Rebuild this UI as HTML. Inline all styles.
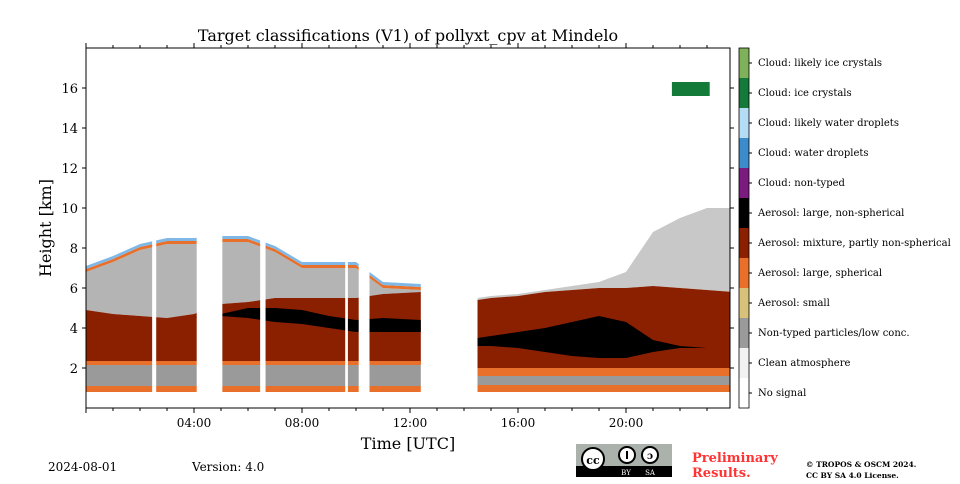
<!DOCTYPE html>
<html><head><meta charset="utf-8">
<style>
body{margin:0;background:#fff;width:960px;height:480px;overflow:hidden;font-family:"DejaVu Serif",serif;}
svg text{font-family:"DejaVu Serif",serif;}
</style></head>
<body>
<svg id="chart" width="960" height="480" viewBox="0 0 960 480">
<text x="408" y="41" font-size="16" text-anchor="middle">Target classifications (V1) of pollyxt_cpv at Mindelo</text>
<g id="plot" clip-path="url(#clip)"></g>
<defs><clipPath id="clip"><rect x="86" y="48" width="644" height="360"/></clipPath></defs>
<g id="axes"></g>
<text x="51" y="228" font-size="16" text-anchor="middle" transform="rotate(-90 51 228)">Height [km]</text>
<text x="408" y="449" font-size="16" text-anchor="middle">Time [UTC]</text>
<g id="cbar"></g>
<text x="48" y="471" font-size="12">2024-08-01</text>
<text x="192" y="471" font-size="12">Version: 4.0</text>
<g>
<rect x="576" y="444" width="96" height="33" fill="#aab2ab"/>
<rect x="576" y="466" width="96" height="11" fill="#000"/>
<circle cx="593" cy="459" r="11" fill="#fff" stroke="#000" stroke-width="2"/>
<text x="593" y="464" font-size="11" font-weight="bold" text-anchor="middle" font-family="Liberation Sans">cc</text>
<circle cx="627" cy="455" r="8" fill="#fff" stroke="#000" stroke-width="2"/>
<rect x="626" y="451" width="2" height="8" fill="#000"/>
<circle cx="650" cy="455" r="8" fill="#fff" stroke="#000" stroke-width="2"/>
<text x="650" y="459" font-size="10" font-weight="bold" text-anchor="middle" font-family="Liberation Sans">ɔ</text>
<text x="626" y="475" font-size="7" fill="#fff" text-anchor="middle" font-family="Liberation Sans">BY</text>
<text x="650" y="475" font-size="7" fill="#fff" text-anchor="middle" font-family="Liberation Sans">SA</text>
</g>
<text x="692" y="462" font-size="13" font-weight="bold" fill="#ff3333">Preliminary</text>
<text x="692" y="477" font-size="13" font-weight="bold" fill="#ff3333">Results.</text>
<text x="806" y="467" font-size="7.5" font-weight="bold">© TROPOS &amp; OSCM 2024.</text>
<text x="806" y="478" font-size="7.5" font-weight="bold">CC BY SA 4.0 License.</text>
</svg>
<script>
// ---- data ----
const t1 = [0,1,2,3,4,5,6,7,8,9,10,11,12.4];
const red1 = [4.9,4.7,4.6,4.5,4.7,5.2,5.3,5.5,5.5,5.5,5.5,5.7,5.8];
const grayTop1 = [6.8,7.3,7.9,8.2,8.2,8.3,8.3,7.8,7.0,7.0,7.0,6.0,5.9];
const blackLo1 = [4.6,4.6,4.5,4.4,4.5,4.6,4.5,4.3,4.2,4.0,3.8,3.8,3.8];
const blackHi1 = [4.6,4.6,4.5,4.4,4.5,4.7,5.0,5.0,4.9,4.6,4.4,4.5,4.4];
const t2 = [14.5,15,16,17,18,19,20,21,22,23,24];
const red2 = [5.4,5.5,5.6,5.8,5.9,6.0,6.0,6.1,6.0,5.9,5.8];
const grayTop2 = [5.5,5.6,5.7,5.9,6.1,6.3,6.8,8.8,9.5,10.0,10.0];
const blackLo2 = [3.1,3.1,3.0,2.8,2.6,2.5,2.5,2.8,3.0,3.0,3.0];
const blackHi2 = [3.5,3.6,3.8,4.0,4.3,4.6,4.3,3.4,3.1,3.0,3.0];
const gapStart = [2.45,4.1,6.45,9.6,10.1];
const gapEnd = [2.6,5.05,6.65,9.7,10.5];
const iceStart = 21.7, iceEnd = 23.1, iceLo = 15.6, iceHi = 16.3;
const yTicks = [2,4,6,8,10,12,14,16];
const xTicks = [4,8,12,16,20];
const xTickLabels = ["04:00","08:00","12:00","16:00","20:00"];
const classNames = ["Cloud: likely ice crystals","Cloud: ice crystals","Cloud: likely water droplets","Cloud: water droplets","Cloud: non-typed","Aerosol: large, non-spherical","Aerosol: mixture, partly non-spherical","Aerosol: large, spherical","Aerosol: small","Non-typed particles/low conc.","Clean atmosphere","No signal"];
const classColors = ["#7fb05a","#137a3a","#b5dcf5","#3c8ccc","#7b1a7f","#000000","#8b2000","#e8702a","#d8c27a","#9a9a9a","#f2f2f2","#ffffff"];

const NS="http://www.w3.org/2000/svg";
const X0=86, PXH=27, Y0=408, PXK=20;
const xs=t=>X0+t*PXH, ys=h=>Y0-h*PXK;
const plot=document.getElementById('plot'), axes=document.getElementById('axes'), cbar=document.getElementById('cbar');
function mk(tag,attrs,parent){const e=document.createElementNS(NS,tag);for(const k in attrs)e.setAttribute(k,attrs[k]);parent.appendChild(e);return e;}
function band(ts,lo,hi,fill,name){
  let pts=ts.map((t,i)=>xs(t)+','+ys(typeof lo==='number'?lo:lo[i]));
  let up=ts.map((t,i)=>xs(t)+','+ys(typeof hi==='number'?hi:hi[i])).reverse();
  const p=mk('polygon',{points:pts.concat(up).join(' '),fill:fill},plot);
  
  
}
// part 1
band(t1,red1,grayTop1,'#b4b4b4','gray-layer-1');
band(t1,2.2,red1,'#8b2000','mixture-layer-1');
band(t1,blackLo1,blackHi1,'#000000','black-band-1');
band(t1,2.15,2.35,'#e8702a','orange-thin-1');
band(t1,1.1,2.15,'#9a9a9a','lower-gray-1');
band(t1,0.8,1.1,'#e8702a','orange-base-1');
band(t1,grayTop1,grayTop1.map(v=>v+0.15),'#e8702a','cloud-edge-1');
band(t1,grayTop1.map(v=>v+0.15),grayTop1.map(v=>v+0.3),'#7fb8e6','cloud-top-1');
// part 2
band(t2,red2,grayTop2,'#c8c8c8','gray-layer-2');
band(t2,2.0,red2,'#8b2000','mixture-layer-2');
band(t2,blackLo2,blackHi2,'#000000','black-band-2');
band(t2,1.6,2.0,'#e8702a','orange-mid-2');
band(t2,1.15,1.6,'#9a9a9a','lower-gray-2');
band(t2,0.8,1.15,'#e8702a','orange-base-2');
// gaps
gapStart.forEach((g,i)=>{
  const r=mk('rect',{x:xs(g),y:ys(8.6),width:xs(gapEnd[i])-xs(g),height:ys(0.75)-ys(8.6),fill:'#fff'},plot);
  
  
});
const ice=mk('rect',{x:xs(iceStart),y:ys(iceHi),width:xs(iceEnd)-xs(iceStart),height:ys(iceLo)-ys(iceHi),fill:'#137a3a'},plot);


// axes frame
mk('rect',{x:86,y:48,width:644,height:360,fill:'none',stroke:'#000','stroke-width':1},axes);
yTicks.forEach(v=>{
  mk('line',{x1:82,x2:86,y1:ys(v),y2:ys(v),stroke:'#000'},axes);
  mk('line',{x1:730,x2:734,y1:ys(v),y2:ys(v),stroke:'#000'},axes);
  const t=mk('text',{x:78,y:ys(v)+5,'font-size':13,'text-anchor':'end'},axes);t.textContent=v;
  
  
});
for(let h=0;h<24;h++){
  const maj=h%4===0;
  mk('line',{x1:xs(h),x2:xs(h),y1:408,y2:408+(maj?5:3),stroke:'#000'},axes);
  mk('line',{x1:xs(h),x2:xs(h),y1:48,y2:48-(maj?5:3),stroke:'#000'},axes);
}
xTicks.forEach((v,i)=>{
  const t=mk('text',{x:xs(v),y:427,'font-size':12,'text-anchor':'middle'},axes);t.textContent=xTickLabels[i];
  
  
});
// colorbar
classNames.forEach((n,i)=>{
  const y=48+i*30;
  const r=mk('rect',{x:739,y:y,width:10,height:30,fill:classColors[i]},cbar);
  
  
  mk('line',{x1:749,x2:752,y1:y+15,y2:y+15,stroke:'#000'},cbar);
  const t=mk('text',{x:758,y:y+18,'font-size':10},cbar);t.textContent=n;
  
  
});
mk('rect',{x:739,y:48,width:10,height:360,fill:'none',stroke:'#000','stroke-width':0.8},cbar);
</script>
</body></html>
